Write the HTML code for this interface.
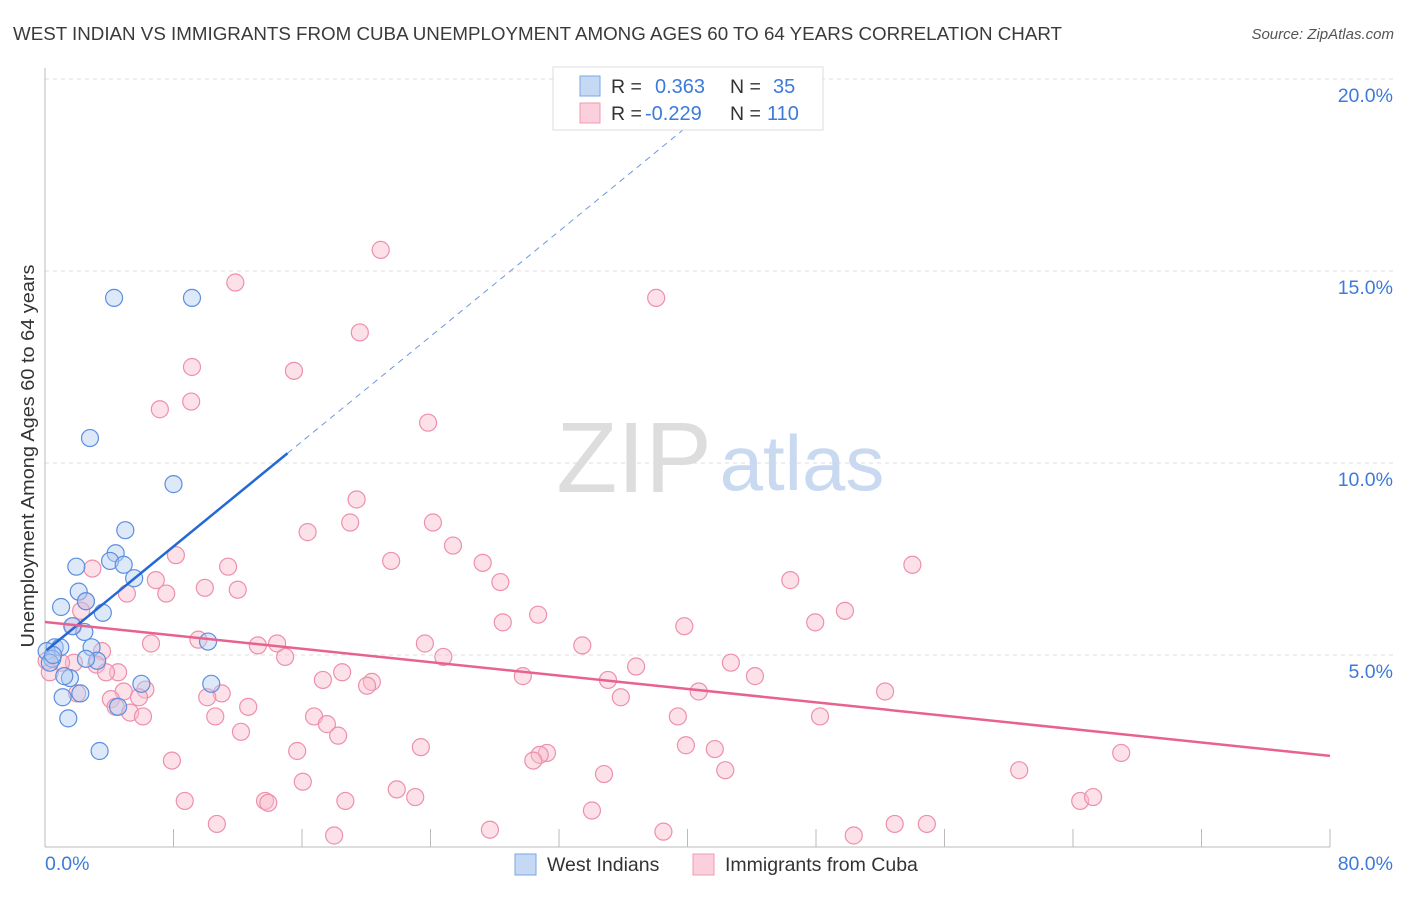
<!DOCTYPE html>
<html><head><meta charset="utf-8"><style>
body{margin:0;background:#fff;font-family:"Liberation Sans",sans-serif;}
svg text{font-family:"Liberation Sans",sans-serif;}
</style></head><body>
<svg id="chart" width="1406" height="892" xmlns="http://www.w3.org/2000/svg">
<text x="13" y="40" font-size="18" fill="#3a3a3a" textLength="1049" lengthAdjust="spacingAndGlyphs">WEST INDIAN VS IMMIGRANTS FROM CUBA UNEMPLOYMENT AMONG AGES 60 TO 64 YEARS CORRELATION CHART</text>
<text x="1394" y="39" font-size="15" fill="#555" font-style="italic" text-anchor="end">Source: ZipAtlas.com</text>
<g id="grid"></g>
<g><text x="634" y="492" font-size="100" font-family="Liberation Serif" fill="#ddd" text-anchor="middle">ZIP</text><text x="802" y="490" font-size="78" fill="#c9d9f0" text-anchor="middle">atlas</text></g>
<line x1="45" y1="847" x2="1330" y2="847" stroke="#bbb"/>
<line x1="45" y1="68" x2="45" y2="847" stroke="#bbb"/>
<g id="ticks"></g>
<g id="pts"></g>
<g id="trends"></g>
<text transform="translate(34,456) rotate(-90)" font-size="18" fill="#333" text-anchor="middle" textLength="383" lengthAdjust="spacingAndGlyphs">Unemployment Among Ages 60 to 64 years</text>
<text x="45" y="870" font-size="19.5" fill="#3d7bd9">0.0%</text>
<text x="1393" y="870" font-size="19.5" fill="#3d7bd9" text-anchor="end">80.0%</text>
<g>
<rect x="553" y="67" width="270" height="63" fill="#fff" stroke="#ddd"/>
<rect x="580" y="76" width="20" height="20" fill="#c5d9f5" stroke="#7aa6e8"/>
<rect x="580" y="103" width="20" height="20" fill="#fbcfdc" stroke="#f09ab5"/>
<text x="611" y="93" font-size="19.5" fill="#333">R =</text><text x="655" y="93" font-size="20" fill="#3d7bd9">0.363</text>
<text x="730" y="93" font-size="19.5" fill="#333">N =</text><text x="773" y="93" font-size="20" fill="#3d7bd9">35</text>
<text x="611" y="120" font-size="19.5" fill="#333">R =</text><text x="645" y="120" font-size="20" fill="#3d7bd9">-0.229</text>
<text x="730" y="120" font-size="19.5" fill="#333">N =</text><text x="767" y="120" font-size="20" fill="#3d7bd9">110</text>
</g>
<g>
<rect x="515" y="854" width="21" height="21" fill="#c5d9f5" stroke="#7aa6e8"/>
<text x="547" y="871" font-size="19.5" fill="#333">West Indians</text>
<rect x="693" y="854" width="21" height="21" fill="#fbcfdc" stroke="#f09ab5"/>
<text x="725" y="871" font-size="19.5" fill="#333">Immigrants from Cuba</text>
</g>
</svg>
<script>
const yTicks=[5,10,15,20];
const yTickLabels=["5.0%","10.0%","15.0%","20.0%"];
const xTicks=[0,8,16,24,32,40,48,56,64,72,80];
const blueX=[4.3,9.15,2.8,8.0,5.0,4.4,4.05,4.9,1.95,5.55,1.0,2.1,2.55,3.6,2.45,1.7,0.6,0.95,0.1,0.45,0.3,2.9,3.25,2.55,10.15,1.55,1.2,2.2,1.1,6.0,10.35,4.55,1.45,3.4,0.5];
const blueY=[14.3,14.3,10.65,9.45,8.25,7.65,7.45,7.35,7.3,7.0,6.25,6.65,6.4,6.1,5.6,5.75,5.2,5.2,5.1,4.9,4.8,5.2,4.85,4.9,5.35,4.4,4.45,4.0,3.9,4.25,4.25,3.65,3.35,2.5,5.0];
const pinkX=[20.9,11.85,38.05,19.6,9.15,15.5,7.15,9.1,23.85,19.4,19.0,24.15,16.35,25.4,8.15,21.55,27.25,54.0,11.4,2.95,6.9,28.35,46.4,9.95,12.0,7.55,5.1,2.55,2.25,49.8,30.7,28.5,47.95,39.8,1.75,6.6,9.55,14.45,13.25,23.65,33.45,3.55,14.95,24.8,1.8,1.0,3.2,4.55,3.8,18.5,29.75,42.7,36.8,44.2,17.3,20.35,20.05,35.05,6.25,4.9,11.0,5.85,10.1,2.0,52.3,40.7,4.1,35.85,12.65,4.4,5.3,6.1,10.6,16.75,17.55,39.4,48.25,12.2,18.25,39.9,41.7,15.7,23.4,31.25,30.8,30.4,67.0,7.9,42.35,34.8,60.65,16.05,21.9,23.05,8.7,13.7,13.9,18.7,64.45,65.25,34.05,10.7,52.9,54.9,27.7,38.5,18.0,50.35,0.1,0.3];
const pinkY=[15.55,14.7,14.3,13.4,12.5,12.4,11.4,11.6,11.05,9.05,8.45,8.45,8.2,7.85,7.6,7.45,7.4,7.35,7.3,7.25,6.95,6.9,6.95,6.75,6.7,6.6,6.6,6.4,6.15,6.15,6.05,5.85,5.85,5.75,5.75,5.3,5.4,5.3,5.25,5.3,5.25,5.1,4.95,4.95,4.8,4.8,4.75,4.55,4.55,4.55,4.45,4.8,4.7,4.45,4.35,4.3,4.2,4.35,4.1,4.05,4.0,3.9,3.9,4.0,4.05,4.05,3.85,3.9,3.65,3.65,3.5,3.4,3.4,3.4,3.2,3.4,3.4,3.0,2.9,2.65,2.55,2.5,2.6,2.45,2.4,2.25,2.45,2.25,2.0,1.9,2.0,1.7,1.5,1.3,1.2,1.2,1.15,1.2,1.2,1.3,0.95,0.6,0.6,0.6,0.45,0.4,0.3,0.3,4.85,4.55];
const blueTrend=[5.09,0.342]; // intercept, slope
const pinkTrend=[5.86,-0.0436];
const NS="http://www.w3.org/2000/svg";
const sx=v=>45+v*(1285/80), sy=v=>847-v*38.4;
function mk(tag,attrs,parent){const e=document.createElementNS(NS,tag);for(const k in attrs)e.setAttribute(k,attrs[k]);parent.appendChild(e);return e;}
const grid=document.getElementById('grid'),ticks=document.getElementById('ticks'),pts=document.getElementById('pts'),tr=document.getElementById('trends');
yTicks.forEach((t,i)=>{
 const l=mk('line',{x1:45,x2:1393,y1:sy(t),y2:sy(t),stroke:'#ddd','stroke-dasharray':'4,4'},grid);
 
 
 const tx=mk('text',{x:1393,y:sy(t)+23,'font-size':19.5,fill:'#3d7bd9','text-anchor':'end'},ticks);
 tx.textContent=yTickLabels[i];
 
 
});
xTicks.forEach(t=>{
 const l=mk('line',{x1:sx(t),x2:sx(t),y1:829,y2:847,stroke:'#bbb'},ticks);
 
 
});
function dots(X,Y,fill,stroke,name){X.forEach((x,i)=>{
 const c=mk('circle',{cx:sx(x),cy:sy(Y[i]),r:8.5,fill:fill,'fill-opacity':0.45,stroke:stroke,'stroke-width':1.2},pts);
 
 
});}
dots(pinkX,pinkY,'#f8bccd','#ee8fae','cuba-point');
dots(blueX,blueY,'#b3cdf2','#5b8fdf','west-indian-point');
const bx1=0.1,bx2=15.1,bx3=40.5;
let l=mk('line',{x1:sx(bx1),y1:sy(blueTrend[0]+blueTrend[1]*bx1),x2:sx(bx2),y2:sy(blueTrend[0]+blueTrend[1]*bx2),stroke:'#2468d4','stroke-width':2.5},tr);


l=mk('line',{x1:sx(bx2),y1:sy(blueTrend[0]+blueTrend[1]*bx2),x2:sx(bx3),y2:sy(blueTrend[0]+blueTrend[1]*bx3),stroke:'#6c98dd','stroke-width':1,'stroke-dasharray':'6,5'},tr);


l=mk('line',{x1:sx(0),y1:sy(pinkTrend[0]),x2:sx(80),y2:sy(pinkTrend[0]+pinkTrend[1]*80),stroke:'#e8628f','stroke-width':2.5},tr);


</script>
</body></html>
